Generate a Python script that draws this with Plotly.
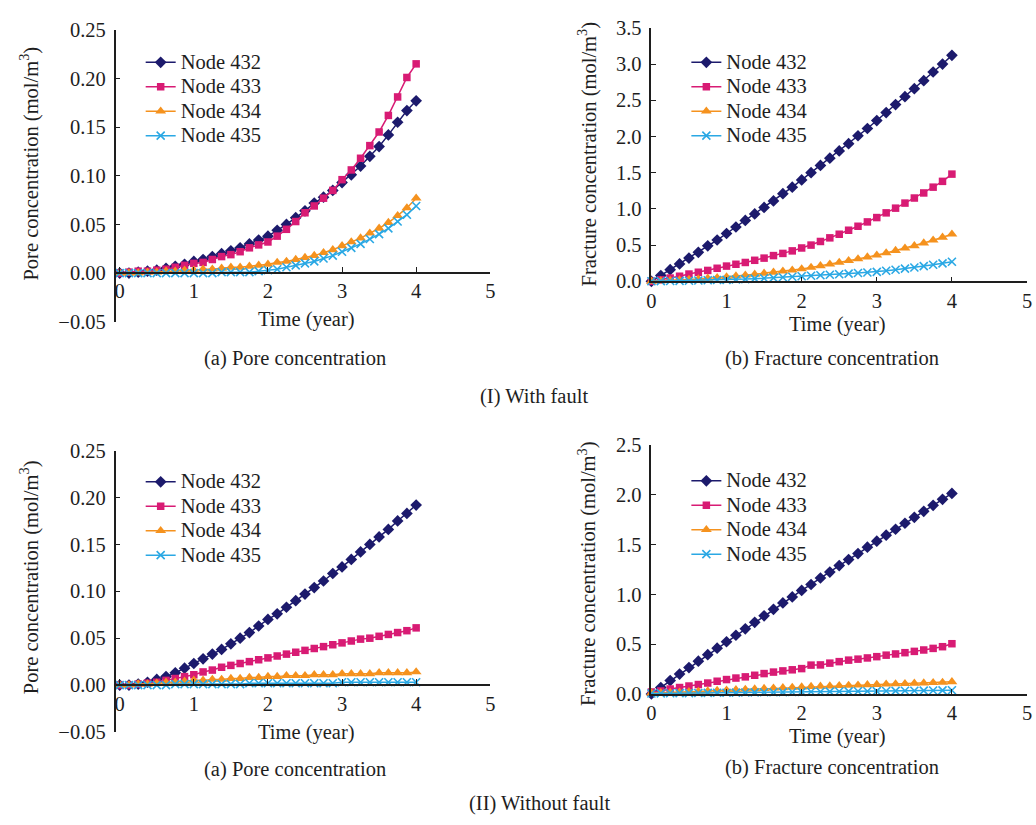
import plotly.graph_objects as go

# ---------------------------------------------------------------- data
TIME = [0.0, 0.125, 0.25, 0.375, 0.5, 0.625, 0.75, 0.875, 1.0,
        1.125, 1.25, 1.375, 1.5, 1.625, 1.75, 1.875, 2.0,
        2.125, 2.25, 2.375, 2.5, 2.625, 2.75, 2.875, 3.0,
        3.125, 3.25, 3.375, 3.5, 3.625, 3.75, 3.875, 4.0]

NODE_NAMES = ["Node 432", "Node 433", "Node 434", "Node 435"]

# (I) with fault - pore concentration (mol/m3)
PORE_FAULT_432 = [0.000, 0.000, 0.001, 0.002, 0.003, 0.005, 0.007, 0.009, 0.012,
                  0.014, 0.017, 0.020, 0.023, 0.026, 0.030, 0.034, 0.038,
                  0.044, 0.050, 0.057, 0.064, 0.072, 0.078, 0.085, 0.093,
                  0.101, 0.110, 0.120, 0.130, 0.142, 0.155, 0.167, 0.177]
PORE_FAULT_433 = [0.000, 0.001, 0.002, 0.002, 0.003, 0.004, 0.006, 0.008, 0.010,
                  0.011, 0.014, 0.017, 0.019, 0.022, 0.026, 0.029, 0.032,
                  0.038, 0.045, 0.053, 0.062, 0.069, 0.077, 0.085, 0.096,
                  0.106, 0.118, 0.131, 0.145, 0.162, 0.181, 0.201, 0.215]
PORE_FAULT_434 = [0.000, 0.000, 0.000, 0.001, 0.001, 0.002, 0.002, 0.003, 0.003,
                  0.004, 0.004, 0.005, 0.006, 0.006, 0.007, 0.008, 0.009,
                  0.011, 0.012, 0.014, 0.016, 0.018, 0.021, 0.024, 0.028,
                  0.032, 0.036, 0.041, 0.046, 0.052, 0.059, 0.067, 0.077]
PORE_FAULT_435 = [0.000, 0.000, 0.000, 0.000, 0.000, 0.000, 0.000, 0.000, 0.000,
                  0.000, 0.000, 0.001, 0.001, 0.001, 0.001, 0.002, 0.003,
                  0.004, 0.006, 0.008, 0.010, 0.012, 0.015, 0.018, 0.022,
                  0.026, 0.030, 0.035, 0.040, 0.046, 0.053, 0.060, 0.069]

# (I) with fault - fracture concentration (mol/m3)
FRAC_FAULT_432 = [0.00, 0.08, 0.16, 0.24, 0.32, 0.40, 0.49, 0.57, 0.66,
                  0.75, 0.84, 0.93, 1.02, 1.11, 1.21, 1.30, 1.40,
                  1.50, 1.60, 1.70, 1.80, 1.90, 2.01, 2.11, 2.22,
                  2.33, 2.44, 2.55, 2.66, 2.77, 2.89, 3.00, 3.12]
FRAC_FAULT_433 = [0.000, 0.020, 0.045, 0.070, 0.100, 0.125, 0.150, 0.180, 0.210,
                  0.235, 0.260, 0.290, 0.320, 0.355, 0.385, 0.420, 0.460,
                  0.500, 0.550, 0.600, 0.650, 0.705, 0.760, 0.820, 0.880,
                  0.945, 1.010, 1.080, 1.150, 1.220, 1.300, 1.380, 1.480]
FRAC_FAULT_434 = [0.000, 0.005, 0.010, 0.018, 0.025, 0.033, 0.042, 0.050, 0.060,
                  0.072, 0.084, 0.097, 0.110, 0.124, 0.139, 0.154, 0.170,
                  0.191, 0.213, 0.236, 0.260, 0.284, 0.309, 0.334, 0.360,
                  0.392, 0.424, 0.457, 0.490, 0.528, 0.567, 0.607, 0.650]
FRAC_FAULT_435 = [0.000, 0.002, 0.004, 0.006, 0.008, 0.011, 0.014, 0.017, 0.020,
                  0.025, 0.030, 0.036, 0.042, 0.048, 0.055, 0.062, 0.070,
                  0.077, 0.084, 0.091, 0.098, 0.106, 0.114, 0.122, 0.130,
                  0.145, 0.160, 0.175, 0.190, 0.209, 0.228, 0.248, 0.270]

# (II) without fault - pore concentration (mol/m3)
PORE_NOFAULT_432 = [0.000, 0.000, 0.001, 0.003, 0.006, 0.009, 0.013, 0.018, 0.023,
                    0.028, 0.033, 0.038, 0.044, 0.050, 0.056, 0.063, 0.070,
                    0.076, 0.083, 0.090, 0.097, 0.104, 0.111, 0.119, 0.126,
                    0.134, 0.142, 0.150, 0.158, 0.166, 0.175, 0.183, 0.192]
PORE_NOFAULT_433 = [0.000, 0.000, 0.001, 0.002, 0.003, 0.005, 0.007, 0.009, 0.011,
                    0.014, 0.016, 0.019, 0.021, 0.023, 0.025, 0.027, 0.029,
                    0.031, 0.033, 0.035, 0.037, 0.039, 0.041, 0.043, 0.045,
                    0.047, 0.049, 0.050, 0.052, 0.054, 0.056, 0.058, 0.061]
PORE_NOFAULT_434 = [0.000, 0.000, 0.001, 0.001, 0.002, 0.003, 0.003, 0.004, 0.005,
                    0.005, 0.006, 0.006, 0.007, 0.007, 0.008, 0.008, 0.009,
                    0.009, 0.010, 0.010, 0.010, 0.011, 0.011, 0.011, 0.012,
                    0.012, 0.012, 0.012, 0.013, 0.013, 0.013, 0.013, 0.014]
PORE_NOFAULT_435 = [0.000, 0.000, 0.000, 0.000, 0.000, 0.000, 0.001, 0.001, 0.001,
                    0.001, 0.001, 0.001, 0.001, 0.001, 0.002, 0.002, 0.002,
                    0.002, 0.002, 0.002, 0.002, 0.002, 0.002, 0.002, 0.003,
                    0.003, 0.003, 0.003, 0.003, 0.003, 0.003, 0.003, 0.003]

# (II) without fault - fracture concentration (mol/m3)
FRAC_NOFAULT_432 = [0.000, 0.065, 0.135, 0.200, 0.265, 0.330, 0.395, 0.460, 0.525,
                    0.590, 0.655, 0.720, 0.785, 0.850, 0.915, 0.975, 1.040,
                    1.100, 1.165, 1.225, 1.290, 1.350, 1.410, 1.475, 1.535,
                    1.595, 1.655, 1.715, 1.775, 1.835, 1.895, 1.955, 2.015]
FRAC_NOFAULT_433 = [0.020, 0.030, 0.050, 0.065, 0.080, 0.095, 0.110, 0.128, 0.145,
                    0.160, 0.172, 0.188, 0.205, 0.220, 0.232, 0.243, 0.255,
                    0.290, 0.292, 0.310, 0.325, 0.340, 0.350, 0.362, 0.375,
                    0.390, 0.402, 0.415, 0.428, 0.442, 0.458, 0.475, 0.505]
FRAC_NOFAULT_434 = [0.010, 0.012, 0.015, 0.018, 0.022, 0.026, 0.030, 0.034, 0.038,
                    0.042, 0.046, 0.050, 0.054, 0.058, 0.062, 0.066, 0.070,
                    0.074, 0.077, 0.080, 0.083, 0.086, 0.089, 0.092, 0.095,
                    0.098, 0.101, 0.104, 0.107, 0.110, 0.113, 0.116, 0.122]
FRAC_NOFAULT_435 = [0.005, 0.006, 0.007, 0.008, 0.009, 0.010, 0.011, 0.012, 0.013,
                    0.014, 0.015, 0.016, 0.017, 0.018, 0.019, 0.020, 0.021,
                    0.022, 0.023, 0.024, 0.025, 0.026, 0.027, 0.028, 0.029,
                    0.030, 0.031, 0.032, 0.033, 0.034, 0.035, 0.036, 0.037]

PORE_TICKS = [-0.05, 0.00, 0.05, 0.10, 0.15, 0.20, 0.25]
FRAC_TICKS_FAULT = [0.0, 0.5, 1.0, 1.5, 2.0, 2.5, 3.0, 3.5]
FRAC_TICKS_NOFAULT = [0.0, 0.5, 1.0, 1.5, 2.0, 2.5]
TIME_TICKS = [0, 1, 2, 3, 4, 5]

# ---------------------------------------------------------------- styling
W, H = 1036, 825
FONT = "Liberation Serif"
INK = "#1e1e1e"
FS = 20.5          # text size
LEG_FS = 16.5      # legend row pitch is driven by this size


def px(x):
    return x / W


def py(y):
    return 1 - y / H


NAVY = "#1c1a6c"
PINK = "#d81b74"
ORANGE = "#f5921e"
SKY = "#2aa8e4"

MARKERS = [
    dict(symbol="diamond", size=9, color=NAVY),
    dict(symbol="square", size=7.5, color=PINK),
    dict(symbol="triangle-up", size=9.5, color=ORANGE),
    dict(symbol="x-thin", size=8, color=SKY, line=dict(color=SKY, width=1.6)),
]
LINE_COLORS = [NAVY, PINK, ORANGE, SKY]

panels = [
    ("x", "y", "legend", [PORE_FAULT_432, PORE_FAULT_433, PORE_FAULT_434, PORE_FAULT_435]),
    ("x2", "y2", "legend2", [FRAC_FAULT_432, FRAC_FAULT_433, FRAC_FAULT_434, FRAC_FAULT_435]),
    ("x3", "y3", "legend3", [PORE_NOFAULT_432, PORE_NOFAULT_433, PORE_NOFAULT_434, PORE_NOFAULT_435]),
    ("x4", "y4", "legend4", [FRAC_NOFAULT_432, FRAC_NOFAULT_433, FRAC_NOFAULT_434, FRAC_NOFAULT_435]),
]

fig = go.Figure()
for xa, ya, leg, series in panels:
    for name, vals, mk, lc in zip(NODE_NAMES, series, MARKERS, LINE_COLORS):
        fig.add_trace(go.Scatter(
            x=TIME, y=vals,
            name=f'<span style="font-size:{FS}px">{name}</span>',
            mode="lines+markers",
            line=dict(color=lc, width=1.5), marker=mk,
            xaxis=xa, yaxis=ya, legend=leg, cliponaxis=False,
        ))

axis_base = dict(
    showline=True, linecolor=INK, linewidth=1.5,
    ticks="inside", ticklen=5, tickwidth=1.3, tickcolor=INK,
    showgrid=False, zeroline=False, fixedrange=True,
    tickfont=dict(family=FONT, size=FS, color=INK),
)

LEFT_X = [px(111.7), px(490)]
RIGHT_X = [px(652.7), px(1032)]

time_axis = dict(axis_base, tickvals=TIME_TICKS, ticktext=[str(t) for t in TIME_TICKS])

fig.update_layout(
    width=W, height=H,
    margin=dict(l=0, r=0, t=0, b=0),
    paper_bgcolor="white", plot_bgcolor="rgba(0,0,0,0)",
    font=dict(family=FONT, size=FS, color=INK),
    # (I)(a) pore, with fault: time axis crosses at zero concentration
    xaxis=dict(time_axis, domain=LEFT_X, range=[-0.055, 5.0],
               anchor="free", position=py(269.3)),
    yaxis=dict(axis_base, domain=[py(319.3), py(19.3)], range=[-0.05, 0.25],
               anchor="x", tickvals=PORE_TICKS, tickformat=".2f", ticklabelstandoff=4),
    # (I)(b) fracture, with fault
    xaxis2=dict(time_axis, domain=RIGHT_X, range=[0, 5.0], anchor="y2"),
    yaxis2=dict(axis_base, domain=[py(277.7), py(17.3)], range=[0, 3.5],
                anchor="x2", tickvals=FRAC_TICKS_FAULT, tickformat=".1f", ticklabelstandoff=4),
    # (II)(a) pore, without fault
    xaxis3=dict(time_axis, domain=LEFT_X, range=[-0.055, 5.0],
                anchor="free", position=py(692.7)),
    yaxis3=dict(axis_base, domain=[py(740.7), py(451.7)], range=[-0.05, 0.25],
                anchor="x3", tickvals=PORE_TICKS, tickformat=".2f", ticklabelstandoff=4),
    # (II)(b) fracture, without fault
    xaxis4=dict(time_axis, domain=RIGHT_X, range=[0, 5.0], anchor="y4"),
    yaxis4=dict(axis_base, domain=[py(701.7), py(446)], range=[0, 2.5],
                anchor="x4", tickvals=FRAC_TICKS_NOFAULT, tickformat=".1f", ticklabelstandoff=4),
)

legend_base = dict(
    xanchor="left", yanchor="top", bgcolor="rgba(0,0,0,0)", borderwidth=0,
    font=dict(family=FONT, size=LEG_FS, color=INK), tracegroupgap=0, itemwidth=30,
)
fig.update_layout(
    legend=dict(legend_base, x=px(137), y=py(35)),
    legend2=dict(legend_base, x=px(688), y=py(35)),
    legend3=dict(legend_base, x=px(137), y=py(466)),
    legend4=dict(legend_base, x=px(688), y=py(465)),
)

labels = [
    ("Time (year)", 304, 317, 0),
    ("Time (year)", 841, 322, 0),
    ("Time (year)", 304, 741, 0),
    ("Time (year)", 841, 745, 0),
    ("Pore concentration (mol/m<sup>3</sup>)", 25, 157, -90),
    ("Fracture concentration (mol/m<sup>3</sup>)", 588, 147, -90),
    ("Pore concentration (mol/m<sup>3</sup>)", 25, 582, -90),
    ("Fracture concentration (mol/m<sup>3</sup>)", 588, 578, -90),
    ("(a) Pore concentration", 293, 357, 0),
    ("(b) Fracture concentration", 835, 357, 0),
    ("(I) With fault", 534, 396, 0),
    ("(a) Pore concentration", 293, 779, 0),
    ("(b) Fracture concentration", 835, 777, 0),
    ("(II) Without fault", 540, 814, 0),
]
for text, lx, ly, ang in labels:
    fig.add_annotation(
        text=text, x=px(lx), y=py(ly), xref="paper", yref="paper",
        xanchor="center", yanchor="middle", showarrow=False, textangle=ang,
        font=dict(family=FONT, size=FS, color=INK),
    )

fig.write_html("out.html")
